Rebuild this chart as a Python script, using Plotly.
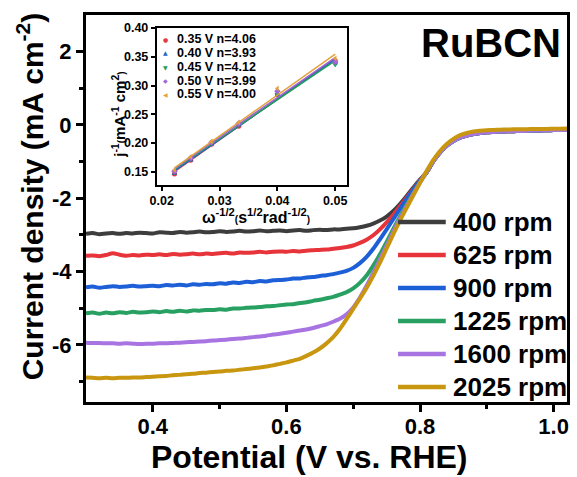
import numpy as np
import plotly.graph_objects as go

# ---------------- main LSV data ----------------
potential = [0.30, 0.31, 0.32, 0.33, 0.34, 0.35, 0.36, 0.37, 0.38, 0.39,
             0.40, 0.41, 0.42, 0.43, 0.44, 0.45, 0.46, 0.47, 0.48, 0.49,
             0.50, 0.51, 0.52, 0.53, 0.54, 0.55, 0.56, 0.57, 0.58, 0.59,
             0.60, 0.61, 0.62, 0.63, 0.64, 0.65, 0.66, 0.67, 0.68, 0.69,
             0.70, 0.71, 0.72, 0.73, 0.74, 0.75, 0.76, 0.77, 0.78, 0.79,
             0.80, 0.81, 0.82, 0.83, 0.84, 0.85, 0.86, 0.87, 0.88, 0.89,
             0.90, 0.91, 0.92, 0.93, 0.94, 0.95, 0.96, 0.97, 0.98, 0.99,
             1.00, 1.01, 1.02]

# shared diffusion-free tail (0.82 - 1.02 V)
tail_common = [-0.99, -0.75, -0.57, -0.44, -0.35, -0.29, -0.25, -0.22, -0.20, -0.19,
               -0.18, -0.175, -0.17, -0.165, -0.16, -0.155, -0.15, -0.145, -0.14, -0.135, -0.13]
tail_2025 = [-0.95, -0.71, -0.52, -0.38, -0.28, -0.22, -0.18, -0.16, -0.145, -0.135,
             -0.13, -0.125, -0.12, -0.118, -0.115, -0.112, -0.11, -0.108, -0.105, -0.102, -0.10]

j_400 = [-2.97, -2.95, -2.98, -2.96, -2.95, -2.97, -2.95, -2.96, -2.94, -2.95,
         -2.96, -2.93, -2.94, -2.95, -2.92, -2.94, -2.93, -2.91, -2.93, -2.92,
         -2.90, -2.92, -2.91, -2.89, -2.91, -2.90, -2.88, -2.90, -2.89, -2.88,
         -2.90, -2.88, -2.87, -2.89, -2.87, -2.86, -2.87, -2.85, -2.85, -2.83,
         -2.82, -2.79, -2.75, -2.69, -2.61, -2.50, -2.35, -2.16, -1.94, -1.71,
         -1.49, -1.29] + tail_common
j_625 = [-3.57, -3.56, -3.58, -3.55, -3.50, -3.54, -3.57, -3.55, -3.56, -3.54,
         -3.55, -3.53, -3.55, -3.52, -3.54, -3.53, -3.51, -3.53, -3.51, -3.52,
         -3.50, -3.49, -3.51, -3.48, -3.49, -3.48, -3.46, -3.48, -3.46, -3.45,
         -3.46, -3.44, -3.45, -3.43, -3.42, -3.41, -3.40, -3.38, -3.36, -3.33,
         -3.29, -3.22, -3.13, -3.01, -2.85, -2.66, -2.45, -2.22, -1.98, -1.74,
         -1.51, -1.29] + tail_common
j_900 = [-4.43, -4.41, -4.44, -4.42, -4.40, -4.42, -4.41, -4.39, -4.41, -4.40,
         -4.39, -4.40, -4.37, -4.38, -4.36, -4.38, -4.35, -4.36, -4.34, -4.35,
         -4.32, -4.33, -4.30, -4.31, -4.28, -4.29, -4.26, -4.27, -4.24, -4.23,
         -4.22, -4.19, -4.19, -4.16, -4.15, -4.12, -4.10, -4.07, -4.03, -3.98,
         -3.90, -3.77, -3.60, -3.38, -3.12, -2.85, -2.57, -2.29, -2.02, -1.76,
         -1.52, -1.29] + tail_common
j_1225 = [-5.14, -5.12, -5.15, -5.12, -5.14, -5.11, -5.13, -5.10, -5.12, -5.11,
          -5.09, -5.11, -5.08, -5.10, -5.07, -5.09, -5.06, -5.07, -5.05, -5.05,
          -5.03, -5.04, -5.01, -5.01, -4.99, -4.98, -4.97, -4.95, -4.94, -4.92,
          -4.90, -4.89, -4.86, -4.84, -4.80, -4.77, -4.73, -4.69, -4.63, -4.56,
          -4.46, -4.31, -4.11, -3.84, -3.53, -3.19, -2.84, -2.50, -2.17, -1.86,
          -1.56, -1.29] + tail_common
j_1600 = [-5.94, -5.95, -5.95, -5.96, -5.96, -5.97, -5.96, -5.97, -5.98, -5.97,
          -5.97, -5.96, -5.96, -5.95, -5.94, -5.93, -5.92, -5.91, -5.90, -5.88,
          -5.87, -5.86, -5.84, -5.83, -5.81, -5.79, -5.77, -5.75, -5.72, -5.70,
          -5.67, -5.64, -5.61, -5.58, -5.54, -5.49, -5.44, -5.37, -5.29, -5.17,
          -4.98, -4.71, -4.39, -4.04, -3.67, -3.29, -2.91, -2.55, -2.21, -1.88,
          -1.57, -1.28] + tail_common
j_2025 = [-6.89, -6.90, -6.91, -6.90, -6.91, -6.90, -6.90, -6.89, -6.89, -6.88,
          -6.87, -6.86, -6.85, -6.83, -6.82, -6.80, -6.79, -6.77, -6.76, -6.74,
          -6.73, -6.71, -6.70, -6.68, -6.66, -6.64, -6.62, -6.59, -6.56, -6.52,
          -6.48, -6.43, -6.38, -6.30, -6.21, -6.10, -5.96, -5.79, -5.57, -5.30,
          -5.02, -4.74, -4.45, -4.12, -3.76, -3.37, -2.98, -2.61, -2.26, -1.92,
          -1.58, -1.25] + tail_2025

rpm_labels = ["400 rpm", "625 rpm", "900 rpm", "1225 rpm", "1600 rpm", "2025 rpm"]
rpm_series = [j_400, j_625, j_900, j_1225, j_1600, j_2025]
rpm_colors = ["#3d3d3d", "#e6343a", "#1d5fd6", "#27a062", "#a874e2", "#c8960f"]

x_ticks = [0.4, 0.6, 0.8, 1.0]
x_tick_text = ["0.4", "0.6", "0.8", "1.0"]
y_ticks = [2, 0, -2, -4, -6]
y_tick_text = ["2", "0", "-2", "-4", "-6"]

# ---------------- Koutecky-Levich inset data ----------------
omega_inv_sqrt = [0.0222, 0.0250, 0.0286, 0.0333, 0.0400, 0.0500]
kl_labels = ["0.35 V n=4.06", "0.40 V n=3.93", "0.45 V n=4.12", "0.50 V n=3.99", "0.55 V n=4.00"]
j_inv_035 = [0.146, 0.170, 0.198, 0.229, 0.284, 0.343]
j_inv_040 = [0.147, 0.170, 0.198, 0.231, 0.283, 0.340]
j_inv_045 = [0.149, 0.172, 0.200, 0.232, 0.285, 0.336]
j_inv_050 = [0.151, 0.174, 0.201, 0.234, 0.290, 0.341]
j_inv_055 = [0.153, 0.176, 0.203, 0.236, 0.295, 0.347]
kl_series = [j_inv_035, j_inv_040, j_inv_045, j_inv_050, j_inv_055]
kl_colors = ["#e8383d", "#2166c8", "#1f9e5a", "#a066d8", "#e3a23a"]
kl_symbols = ["circle", "triangle-up", "triangle-down", "diamond", "triangle-left"]
kl_glyphs = ["\u25CF", "\u25B2", "\u25BC", "\u25C6", "\u25C0"]

FONT = "Liberation Sans, Arial, sans-serif"

fig = go.Figure()

# LSV curves
for lab, ys, col in zip(rpm_labels, rpm_series, rpm_colors):
    fig.add_trace(go.Scatter(x=potential, y=ys, mode="lines", name=lab,
                             line=dict(color=col, width=4, shape="spline", smoothing=0.6),
                             showlegend=False, xaxis="x", yaxis="y"))

# K-L points and linear fits
for lab, ys, col, sym in zip(kl_labels, kl_series, kl_colors, kl_symbols):
    slope, icpt = np.polyfit(omega_inv_sqrt, ys, 1)
    xf = [omega_inv_sqrt[0], omega_inv_sqrt[-1]]
    fig.add_trace(go.Scatter(x=xf, y=[slope * v + icpt for v in xf], mode="lines",
                             line=dict(color=col, width=1.5), showlegend=False,
                             xaxis="x2", yaxis="y2"))
    fig.add_trace(go.Scatter(x=omega_inv_sqrt, y=ys, mode="markers", name=lab,
                             marker=dict(color=col, symbol=sym, size=5),
                             showlegend=False, xaxis="x2", yaxis="y2"))

# plot-area geometry in pixels
L, R, T, B = 86, 570, 15, 402
def fx(px):
    return (px - L) / (R - L)
def fy(py):
    return (B - py) / (B - T)

fig.update_layout(
    width=577, height=477,
    margin=dict(l=L, r=577 - R, t=T, b=477 - B),
    paper_bgcolor="white", plot_bgcolor="white",
    font=dict(family=FONT, color="black"),
    xaxis=dict(domain=[0, 1], range=[0.3, 1.02], tickvals=x_ticks, ticktext=x_tick_text,
               showgrid=False, zeroline=False, showline=True, linecolor="black",
               linewidth=3, mirror=True, ticks="outside", ticklen=7, tickwidth=2.5,
               tickcolor="black", tickfont=dict(size=22, weight="bold", family=FONT),
               ticklabelstandoff=-4,
               minor=dict(tickvals=[0.5, 0.7, 0.9], ticks="outside", ticklen=4,
                          tickwidth=2.5, tickcolor="black"),
               anchor="y"),
    yaxis=dict(domain=[0, 1], range=[-7.56, 3.0], tickvals=y_ticks, ticktext=y_tick_text,
               showgrid=False, zeroline=False, showline=True, linecolor="black",
               linewidth=3, mirror=True, ticks="outside", ticklen=7, tickwidth=2.5,
               tickcolor="black", tickfont=dict(size=22, weight="bold", family=FONT),
               minor=dict(tickvals=[1, -1, -3, -5, -7], ticks="outside", ticklen=4,
                          tickwidth=2.5, tickcolor="black"),
               anchor="x"),
    xaxis2=dict(domain=[fx(157), fx(349)], range=[0.0191, 0.0521],
                tickvals=[0.02, 0.03, 0.04, 0.05], ticktext=["0.02", "0.03", "0.04", "0.05"],
                showgrid=False, zeroline=False, showline=True, linecolor="black",
                linewidth=1.5, mirror=True, ticks="outside", ticklen=4, tickwidth=1.5,
                tickcolor="black", tickfont=dict(size=12.5, weight="bold", family=FONT),
                ticklabelstandoff=-1, anchor="y2"),
    yaxis2=dict(domain=[fy(185), fy(28)], range=[0.127, 0.40],
                tickvals=[0.15, 0.20, 0.25, 0.30, 0.35, 0.40],
                ticktext=["0.15", "0.20", "0.25", "0.30", "0.35", "0.40"],
                showgrid=False, zeroline=False, showline=True, linecolor="black",
                linewidth=1.5, mirror=True, ticks="outside", ticklen=4, tickwidth=1.5,
                tickcolor="black", tickfont=dict(size=12.5, weight="bold", family=FONT),
                anchor="x2"),
)

SMALL = "<span style='font-size:10px'>{}</span>"
ann = []
# axis titles
ann.append(dict(text="Potential (V vs. RHE)", x=fx(311), y=fy(457), xref="paper", yref="paper",
                showarrow=False, xanchor="center", yanchor="middle",
                font=dict(size=32, weight="bold", family=FONT)))
ann.append(dict(text="Current density (mA cm<sup>-2</sup>)", x=fx(30), y=fy(196),
                xref="paper", yref="paper", textangle=-90, showarrow=False,
                xanchor="center", yanchor="middle",
                font=dict(size=30, weight="bold", family=FONT)))
ann.append(dict(text="RuBCN", x=fx(566), y=fy(43), xref="paper", yref="paper",
                showarrow=False, xanchor="right", yanchor="middle",
                font=dict(size=40, weight="bold", family=FONT)))
# inset titles
ann.append(dict(text="\u03c9<sup>-1/2</sup>" + SMALL.format("(") + "s<sup>1/2</sup>rad<sup>-1/2</sup>"
                + SMALL.format(")"),
                x=fx(257), y=fy(216), xref="paper", yref="paper", showarrow=False,
                xanchor="center", yanchor="middle",
                font=dict(size=16, weight="bold", family=FONT)))
ann.append(dict(text="j<sup>-1</sup>" + SMALL.format("(") + "mA<sup>-1</sup> cm<sup>2</sup>"
                + SMALL.format(")"),
                x=fx(119), y=fy(115), xref="paper", yref="paper", textangle=-90,
                showarrow=False, xanchor="center", yanchor="middle",
                font=dict(size=15, weight="bold", family=FONT)))

# inset legend
kl_rows = [39, 53, 67, 81, 94]
for lab, col, g, ry in zip(kl_labels, kl_colors, kl_glyphs, kl_rows):
    ann.append(dict(text=g, x=fx(166), y=fy(ry), xref="paper", yref="paper",
                    showarrow=False, xanchor="center", yanchor="middle",
                    font=dict(size=6, color=col, family="DejaVu Sans")))
    ann.append(dict(text=lab, x=fx(176), y=fy(ry), xref="paper", yref="paper",
                    showarrow=False, xanchor="left", yanchor="middle",
                    font=dict(size=12.5, weight="bold", family=FONT)))

# main legend
shapes = []
rpm_rows = [222, 255, 288, 321, 354, 387]
for lab, col, ry in zip(rpm_labels, rpm_colors, rpm_rows):
    shapes.append(dict(type="line", xref="paper", yref="paper", x0=fx(400), x1=fx(448),
                       y0=fy(ry), y1=fy(ry), line=dict(color=col, width=4.5), layer="above"))
    ann.append(dict(text=lab, x=fx(453), y=fy(ry), xref="paper", yref="paper",
                    showarrow=False, xanchor="left", yanchor="middle",
                    font=dict(size=26, weight="bold", family=FONT)))

fig.update_layout(annotations=ann, shapes=shapes)
fig.write_html("out.html")
